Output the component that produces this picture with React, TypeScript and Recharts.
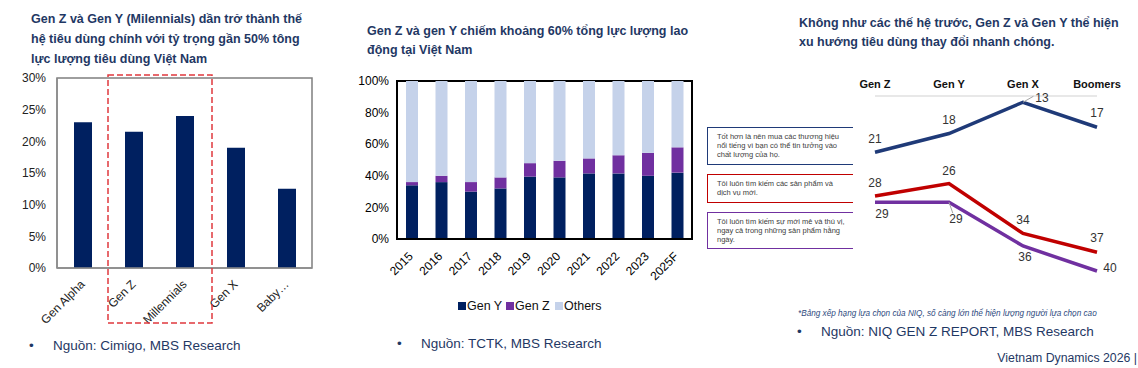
import React from 'react';
import {
  BarChart,
  Bar,
  XAxis,
  YAxis,
  LineChart,
  Line,
  LabelList,
  Legend,
  ReferenceArea,
} from 'recharts';

// ─── Data ────────────────────────────────────────────────────────────────────

const generations = ['Gen Alpha', 'Gen Z', 'Millennials', 'Gen X', 'Baby…'];
const consumerShare = [23, 21.5, 24, 19, 12.5];

const years = ['2015', '2016', '2017', '2018', '2019', '2020', '2021', '2022', '2023', '2025F'];
const genYShare = [34, 36, 30, 32, 39.5, 39, 41.5, 41.5, 40, 42];
const genZShare = [2, 4, 6, 7, 8.5, 10.5, 9.5, 11.5, 14.5, 16];

const trendGroups = ['Gen Z', 'Gen Y', 'Gen X', 'Boomers'];
const trustBrands = [21, 18, 13, 17];
const seekNew = [28, 26, 34, 37];
const seekNovelty = [29, 29, 36, 40];

// ─── Colors ──────────────────────────────────────────────────────────────────

const NAVY = '#002060';
const PURPLE = '#7030A0';
const LIGHT = '#C5D2EA';
const TITLE = '#1F3864';
const LINE_BLUE = '#1F3A78';
const LINE_RED = '#C00000';
const FONT = 'Arial, "Liberation Sans", sans-serif';

// label offsets (dx, dy, leader line) for the line chart
const blueLabels = [
  { dx: 0, dy: -13 },
  { dx: 0, dy: -14 },
  { dx: 19, dy: -4, lead: true },
  { dx: 0, dy: -14 },
];
const redLabels = [
  { dx: 0, dy: -13 },
  { dx: 0, dy: -13 },
  { dx: 0, dy: -14 },
  { dx: 0, dy: -14 },
];
const purpleLabels = [
  { dx: 7, dy: 12 },
  { dx: 7, dy: 17, lead: true },
  { dx: 2, dy: 11 },
  { dx: 13, dy: -3 },
];

const shareData = generations.map((g, i) => ({ name: g, value: consumerShare[i] }));
const laborData = years.map((y, i) => ({
  name: y,
  genY: genYShare[i],
  genZ: genZShare[i],
  others: +(100 - genYShare[i] - genZShare[i]).toFixed(1),
}));
const trendData = trendGroups.map((g, i) => ({
  name: g,
  trust: trustBrands[i],
  newp: seekNew[i],
  novelty: seekNovelty[i],
}));

// ─── Helpers ─────────────────────────────────────────────────────────────────

function RotTick(props: any) {
  const { x, y, payload, dx = 3, dy = 9, color = '#222' } = props;
  return (
    <text
      x={x + dx}
      y={y + dy}
      textAnchor="end"
      fontSize={12}
      fontFamily={FONT}
      fill={color}
      transform={`rotate(-45 ${x + dx} ${y + dy})`}
    >
      {payload.value}
    </text>
  );
}

function makeLabel(offsets: { dx: number; dy: number; lead?: boolean }[]) {
  return (props: any) => {
    const { x, y, value, index } = props;
    const o = offsets[index] ?? { dx: 0, dy: -12 };
    const lx = x + o.dx;
    const ly = y + o.dy;
    return (
      <g>
        {o.lead && (
          <line
            x1={x}
            y1={y}
            x2={x + o.dx * 0.55}
            y2={y + (o.dy > 0 ? o.dy - 6 : o.dy - 2)}
            stroke="#A6A6A6"
            strokeWidth={1}
          />
        )}
        <text
          x={lx}
          y={ly + 4}
          textAnchor="middle"
          fontSize={12}
          fontFamily={FONT}
          fill="#333"
        >
          {value}
        </text>
      </g>
    );
  };
}

function HeaderTick(props: any) {
  const { x, y, payload } = props;
  return (
    <text
      x={x}
      y={y}
      textAnchor="middle"
      fontSize={11}
      fontWeight="bold"
      fontFamily={FONT}
      fill="#111"
    >
      {payload.value}
    </text>
  );
}

const titleStyle: React.CSSProperties = {
  position: 'absolute',
  fontFamily: FONT,
  fontWeight: 'bold',
  fontSize: 12.5,
  color: TITLE,
  whiteSpace: 'nowrap',
};

const sourceStyle: React.CSSProperties = {
  position: 'absolute',
  fontFamily: FONT,
  fontSize: 13.5,
  color: TITLE,
  whiteSpace: 'nowrap',
  lineHeight: '16px',
};

function Source({ left, top, text }: { left: number; top: number; text: string }) {
  return (
    <>
      <div style={{ ...sourceStyle, left: left - 3, top }}>•</div>
      <div style={{ ...sourceStyle, left: left + 21, top }}>{text}</div>
    </>
  );
}

function NoteBox({
  top,
  height,
  color,
  lines,
}: {
  top: number;
  height: number;
  color: string;
  lines: string[];
}) {
  return (
    <div
      style={{
        position: 'absolute',
        left: 707,
        top,
        width: 146,
        height,
        boxSizing: 'border-box',
        borderLeft: `1.5px solid ${color}`,
        borderTop: `1.5px solid ${color}`,
        borderBottom: `1.5px solid ${color}`,
        paddingLeft: 9,
        paddingTop: 3.5,
        fontFamily: FONT,
        fontSize: 7.5,
        lineHeight: '9px',
        color: '#404040',
        whiteSpace: 'nowrap',
      }}
    >
      {lines.map((l, i) => (
        <div key={i}>{l}</div>
      ))}
    </div>
  );
}

// ─── App ─────────────────────────────────────────────────────────────────────

export default function App() {
  return (
    <div
      style={{
        position: 'absolute',
        left: 0,
        top: 0,
        width: 1138,
        height: 368,
        background: '#fff',
        overflow: 'hidden',
      }}
    >
      {/* Panel 1 */}
      <div style={{ ...titleStyle, left: 31, top: 9, lineHeight: '20px' }}>
        Gen Z và Gen Y (Milennials) dần trở thành thế
        <br />
        hệ tiêu dùng chính với tỷ trọng gần 50% tông
        <br />
        lực lượng tiêu dùng Việt Nam
      </div>
      <div style={{ position: 'absolute', left: 0, top: 0 }}>
        <BarChart
          width={330}
          height={330}
          data={shareData}
          margin={{ top: 78, right: 18, bottom: 2, left: 7 }}
        >
          <XAxis
            dataKey="name"
            height={60}
            interval={0}
            tickLine={false}
            axisLine={{ stroke: '#8C8C8C', strokeWidth: 1.5 }}
            tick={<RotTick color="#222" />}
          />
          <YAxis
            width={50}
            domain={[0, 30]}
            ticks={[0, 5, 10, 15, 20, 25, 30]}
            tickFormatter={(v: number) => `${v}%`}
            tickLine={false}
            tickMargin={5}
            tick={{ fontSize: 12, fill: '#222', fontFamily: FONT }}
            axisLine={{ stroke: '#8C8C8C', strokeWidth: 1.5 }}
          />
          <ReferenceArea
            y1={0}
            y2={30}
            fill="none"
            stroke="#7F7F7F"
            strokeWidth={1.5}
            ifOverflow="visible"
          />
          <Bar dataKey="value" fill={NAVY} barSize={18} isAnimationActive={false} />
        </BarChart>
      </div>
      <svg
        style={{ position: 'absolute', left: 107, top: 74 }}
        width={107}
        height={251}
      >
        <rect
          x={1}
          y={1}
          width={104}
          height={248}
          fill="none"
          stroke="#E0393E"
          strokeWidth={1.5}
          strokeDasharray="6 3"
        />
      </svg>
      <Source left={32} top={338} text="Nguồn: Cimigo, MBS Research" />

      {/* Panel 2 */}
      <div style={{ ...titleStyle, left: 367, top: 21.5, lineHeight: '19px' }}>
        Gen Z và gen Y chiếm khoảng 60% tổng lực lượng lao
        <br />
        động tại Việt Nam
      </div>
      <div style={{ position: 'absolute', left: 340, top: 0 }}>
        <BarChart
          width={360}
          height={330}
          data={laborData}
          margin={{ top: 81, right: 8, bottom: 41, left: 10 }}
        >
          <XAxis
            dataKey="name"
            height={50}
            interval={0}
            tickLine={false}
            axisLine={{ stroke: '#000', strokeWidth: 2 }}
            tick={<RotTick dx={2} dy={10} color="#000" />}
          />
          <YAxis
            width={47}
            domain={[0, 100]}
            ticks={[0, 10, 20, 30, 40, 50, 60, 70, 80, 90, 100]}
            tickFormatter={(v: number) => `${v}%`}
            tickLine={false}
            tick={{ fontSize: 12, fill: '#000', fontFamily: FONT }}
            axisLine={{ stroke: '#000', strokeWidth: 2 }}
          />
          <Legend
            verticalAlign="middle"
            align="center"
            layout="horizontal"
            wrapperStyle={{ top: 298, left: 118, width: 160, height: 16 }}
            content={() => (
              <div
                style={{
                  display: 'flex',
                  fontFamily: FONT,
                  fontSize: 12.5,
                  color: '#111',
                  lineHeight: '16px',
                }}
              >
                {[
                  { name: 'Gen Y', color: NAVY, w: 48 },
                  { name: 'Gen Z', color: PURPLE, w: 49 },
                  { name: 'Others', color: LIGHT, w: 50 },
                ].map((it) => (
                  <div key={it.name} style={{ display: 'flex', alignItems: 'center', width: it.w }}>
                    <span
                      style={{
                        width: 8,
                        height: 8,
                        background: it.color,
                        display: 'inline-block',
                        marginRight: 1,
                      }}
                    />
                    {it.name}
                  </div>
                ))}
              </div>
            )}
          />
          <Bar dataKey="genY" stackId="a" fill={NAVY} barSize={12} isAnimationActive={false} />
          <Bar dataKey="genZ" stackId="a" fill={PURPLE} barSize={12} isAnimationActive={false} />
          <Bar dataKey="others" stackId="a" fill={LIGHT} barSize={12} isAnimationActive={false} />
          <ReferenceArea
            y1={0}
            y2={100}
            fill="none"
            stroke="#000"
            strokeWidth={2}
            ifOverflow="visible"
          />
        </BarChart>
      </div>
      <Source left={400} top={336} text="Nguồn: TCTK, MBS Research" />

      {/* Panel 3 */}
      <div style={{ ...titleStyle, left: 799, top: 13.5, lineHeight: '19px' }}>
        Không như các thế hệ trước, Gen Z và Gen Y thể hiện
        <br />
        xu hướng tiêu dùng thay đổi nhanh chóng.
      </div>
      <NoteBox
        top={127}
        height={38}
        color={LINE_BLUE}
        lines={[
          'Tốt hơn là nên mua các thương hiệu',
          'nổi tiếng vì bạn có thể tin tưởng vào',
          'chất lượng của họ.',
        ]}
      />
      <NoteBox
        top={174}
        height={29}
        color={LINE_RED}
        lines={['Tôi luôn tìm kiếm các sản phẩm và', 'dịch vụ mới.']}
      />
      <NoteBox
        top={212}
        height={37}
        color={PURPLE}
        lines={[
          'Tôi luôn tìm kiếm sự mới mẻ và thú vị,',
          'ngay cả trong những sản phẩm hằng',
          'ngày.',
        ]}
      />
      <div style={{ position: 'absolute', left: 700, top: 0 }}>
        <LineChart
          width={438}
          height={300}
          data={trendData}
          margin={{ top: 66, right: 41, bottom: 29, left: 175 }}
        >
          <XAxis
            dataKey="name"
            orientation="top"
            scale="point"
            height={30}
            interval={0}
            tickLine={false}
            axisLine={{ stroke: '#E8E8E8', strokeWidth: 2 }}
            tick={<HeaderTick />}
          />
          <YAxis hide reversed type="number" domain={[12, 40]} />
          <Line
            dataKey="trust"
            stroke={LINE_BLUE}
            strokeWidth={3.5}
            dot={false}
            isAnimationActive={false}
          >
            <LabelList dataKey="trust" content={makeLabel(blueLabels)} />
          </Line>
          <Line
            dataKey="newp"
            stroke={LINE_RED}
            strokeWidth={3.5}
            dot={false}
            isAnimationActive={false}
          >
            <LabelList dataKey="newp" content={makeLabel(redLabels)} />
          </Line>
          <Line
            dataKey="novelty"
            stroke={PURPLE}
            strokeWidth={3.5}
            dot={false}
            isAnimationActive={false}
          >
            <LabelList dataKey="novelty" content={makeLabel(purpleLabels)} />
          </Line>
        </LineChart>
      </div>
      <div
        style={{
          position: 'absolute',
          left: 798,
          top: 309,
          fontFamily: FONT,
          fontSize: 8.2,
          fontStyle: 'italic',
          color: '#2F4B80',
          whiteSpace: 'nowrap',
        }}
      >
        *Bảng xếp hạng lựa chọn của NIQ, số càng lớn thể hiện lượng người lựa chọn cao
      </div>
      <Source left={800} top={324} text="Nguồn: NIQ GEN Z REPORT, MBS Research" />
      <div
        style={{
          position: 'absolute',
          right: 1,
          top: 350,
          fontFamily: FONT,
          fontSize: 12.3,
          color: TITLE,
          whiteSpace: 'nowrap',
          lineHeight: '16px',
        }}
      >
        Vietnam Dynamics 2026 |
      </div>
    </div>
  );
}
